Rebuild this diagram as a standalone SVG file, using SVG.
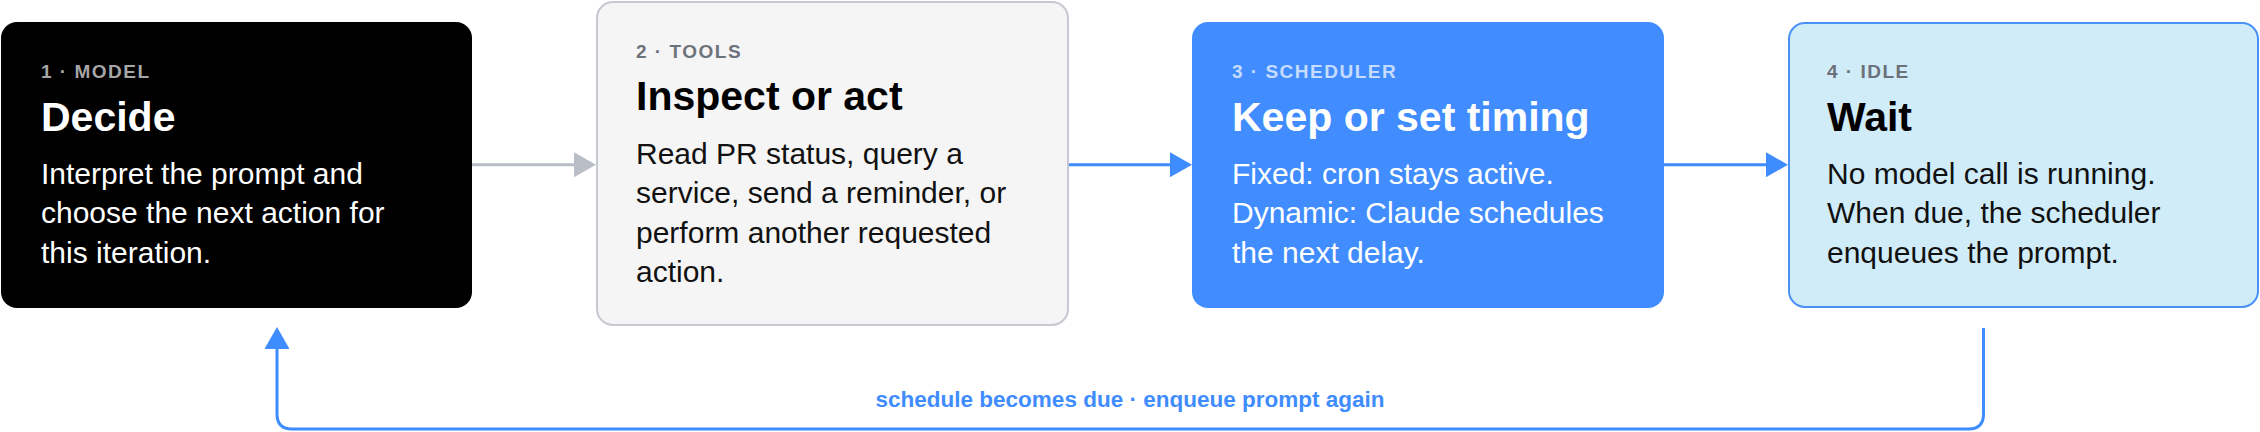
<svg xmlns="http://www.w3.org/2000/svg" width="2260" height="432" viewBox="0 0 2260 432">
  <style>
    text { font-family: "Liberation Sans", Arial, Helvetica, sans-serif; }
    .lbl { font-size: 19px; font-weight: bold; letter-spacing: 1.5px; }
    .ttl { font-size: 41px; font-weight: bold; }
    .body { font-size: 30px; }
    .conn { fill: none; stroke-width: 3; }
    .gray { stroke: #b9bdc6; }
    .blue { stroke: #3f8cff; }
    .loop-lbl { font-size: 22.5px; font-weight: bold; fill: #3f8cff; }
  </style>
  <defs>
    <marker id="ah-gray" markerUnits="userSpaceOnUse" markerWidth="22" markerHeight="25" viewBox="0 0 22 25" refX="12" refY="12.5" orient="auto">
      <path d="M0,0 L22,12.5 L0,25 Z" fill="#b9bdc6"/>
    </marker>
    <marker id="ah-blue" markerUnits="userSpaceOnUse" markerWidth="22" markerHeight="25" viewBox="0 0 22 25" refX="12" refY="12.5" orient="auto">
      <path d="M0,0 L22,12.5 L0,25 Z" fill="#3f8cff"/>
    </marker>
  </defs>

  <g id="node-model">
    <rect x="1" y="22" width="471" height="286" rx="16" fill="#000"/>
    <text class="lbl" x="41" y="78.3" fill="#a6a6a6">1 · MODEL</text>
    <text class="ttl" x="41" y="130.5" fill="#fff">Decide</text>
    <text class="body" fill="#fff">
      <tspan x="41" y="184">Interpret the prompt and</tspan>
      <tspan x="41" y="223.3">choose the next action for</tspan>
      <tspan x="41" y="262.6">this iteration.</tspan>
    </text>
  </g>

  <g id="node-tools">
    <rect x="597" y="2" width="471" height="323" rx="16" fill="#f5f5f5" stroke="#c6c9d0" stroke-width="2"/>
    <text class="lbl" x="636" y="58" fill="#6e727a">2 · TOOLS</text>
    <text class="ttl" x="636" y="110.3" fill="#000">Inspect or act</text>
    <text class="body" fill="#111">
      <tspan x="636" y="164">Read PR status, query a</tspan>
      <tspan x="636" y="203.3">service, send a reminder, or</tspan>
      <tspan x="636" y="242.6">perform another requested</tspan>
      <tspan x="636" y="281.9">action.</tspan>
    </text>
  </g>

  <g id="node-scheduler">
    <rect x="1192" y="22" width="472" height="286" rx="16" fill="#418dff"/>
    <text class="lbl" x="1232" y="78.3" fill="#c6dcff">3 · SCHEDULER</text>
    <text class="ttl" x="1232" y="130.5" fill="#fff">Keep or set timing</text>
    <text class="body" fill="#fff">
      <tspan x="1232" y="184">Fixed: cron stays active.</tspan>
      <tspan x="1232" y="223.3">Dynamic: Claude schedules</tspan>
      <tspan x="1232" y="262.6">the next delay.</tspan>
    </text>
  </g>

  <g id="node-idle">
    <rect x="1789" y="23" width="469" height="284" rx="16" fill="#d0ecf9" stroke="#4a91f7" stroke-width="2"/>
    <text class="lbl" x="1827" y="78.3" fill="#6b7079">4 · IDLE</text>
    <text class="ttl" x="1827" y="130.5" fill="#000">Wait</text>
    <text class="body" fill="#111">
      <tspan x="1827" y="184">No model call is running.</tspan>
      <tspan x="1827" y="223.3">When due, the scheduler</tspan>
      <tspan x="1827" y="262.6">enqueues the prompt.</tspan>
    </text>
  </g>

  <g id="connectors">
    <path class="conn gray" d="M472,164.7 H586" marker-end="url(#ah-gray)"/>
    <path class="conn blue" d="M1069,164.7 H1182" marker-end="url(#ah-blue)"/>
    <path class="conn blue" d="M1664,164.7 H1778" marker-end="url(#ah-blue)"/>
    <path class="conn blue" d="M1983.5,328 V414 Q1983.5,429 1968.5,429 H292 Q277,429 277,414 V337" marker-end="url(#ah-blue)"/>
    <text class="loop-lbl" x="1130" y="407" text-anchor="middle">schedule becomes due · enqueue prompt again</text>
  </g>
</svg>
